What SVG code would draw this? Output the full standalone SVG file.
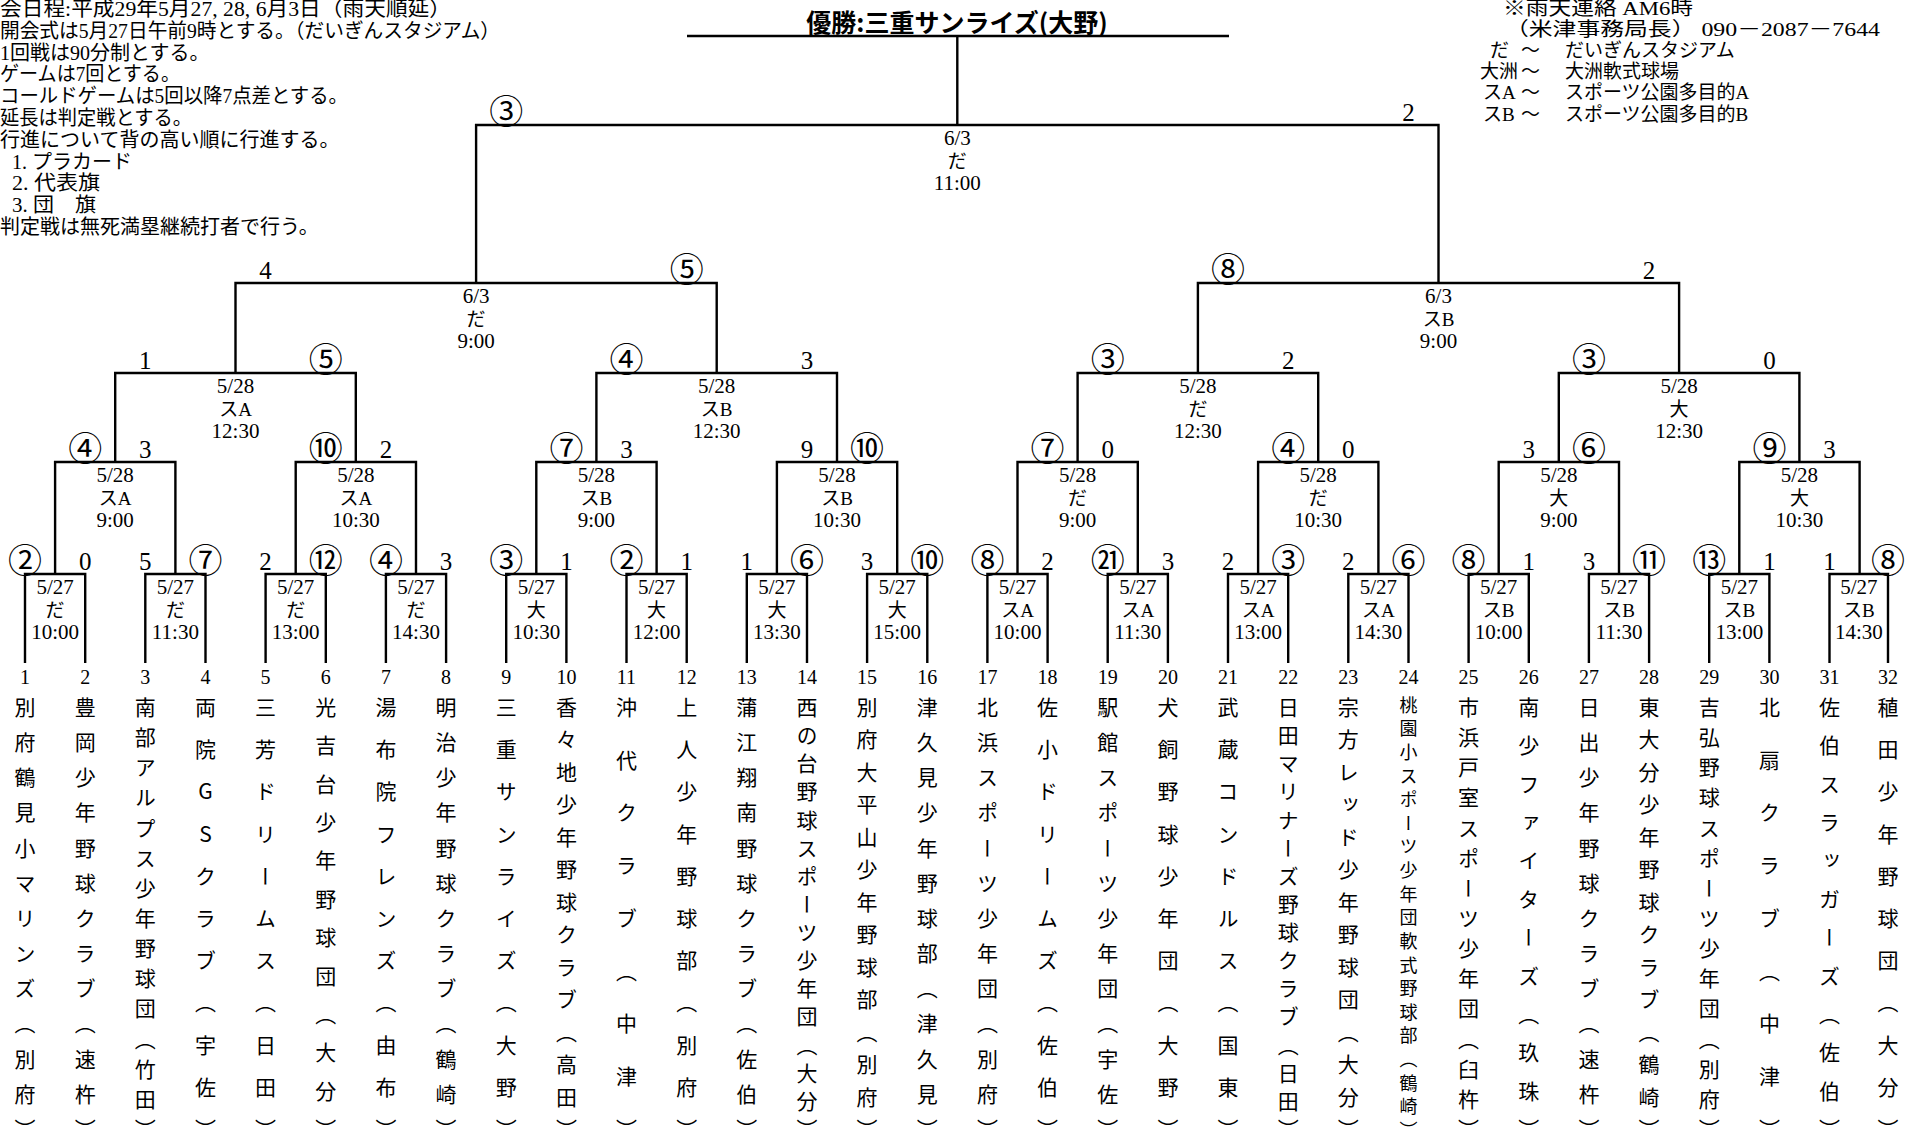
<svg xmlns="http://www.w3.org/2000/svg" width="1906" height="1142" viewBox="0 0 1906 1142">
<style>
.ln{fill:none;stroke:#000;stroke-width:2.4;stroke-linejoin:miter}
text{fill:#000}
.inf{font-family:"Liberation Serif","Noto Sans CJK JP",serif;font-size:21px;text-anchor:middle}
.m{font-size:19px}
.sc{font-family:"Liberation Serif","Noto Sans CJK JP",serif;font-size:25px;text-anchor:middle}
.c{font-family:"Noto Sans CJK JP",sans-serif;font-size:34px}
.no{font-family:"Liberation Serif",serif;font-size:20px;text-anchor:middle}
.tm{font-family:"Noto Sans CJK JP",sans-serif;font-size:21px;writing-mode:vertical-rl;text-orientation:upright}
.sm{font-size:18px}
.note{font-family:"Liberation Serif","Noto Sans CJK JP",serif;font-size:20px}
.rn{font-family:"Liberation Serif","Noto Sans CJK JP",serif;font-size:19px}
.title{font-family:"Noto Sans CJK JP",sans-serif;font-size:25px;font-weight:bold;text-anchor:middle}
</style>

<g id="notes-left">
<text class="note" x="0" y="16" textLength="451" lengthAdjust="spacingAndGlyphs">会日程:平成29年5月27, 28, 6月3日（雨天順延）</text>
<text class="note" x="0" y="37.8" textLength="500" lengthAdjust="spacingAndGlyphs">開会式は5月27日午前9時とする。（だいぎんスタジアム）</text>
<text class="note" x="0" y="59.6">1回戦は90分制とする。</text>
<text class="note" x="0" y="81.4" textLength="180" lengthAdjust="spacingAndGlyphs">ゲームは7回とする。</text>
<text class="note" x="0" y="103.2" textLength="348" lengthAdjust="spacingAndGlyphs">コールドゲームは5回以降7点差とする。</text>
<text class="note" x="0" y="125" textLength="192" lengthAdjust="spacingAndGlyphs">延長は判定戦とする。</text>
<text class="note" x="0" y="146.8">行進について背の高い順に行進する。</text>
<text class="note" x="12" y="168.6">1. プラカード</text>
<text class="note" x="12" y="190.4" textLength="88" lengthAdjust="spacingAndGlyphs">2. 代表旗</text>
<text class="note" x="12" y="212.2" textLength="84" lengthAdjust="spacingAndGlyphs">3. 団　旗</text>
<text class="note" x="0" y="234">判定戦は無死満塁継続打者で行う。</text>
</g>

<g id="notes-right">
<text class="rn" x="1503" y="15" textLength="190" lengthAdjust="spacingAndGlyphs">※雨天連絡 AM6時</text>
<text class="rn" x="1505" y="36.1" textLength="375" lengthAdjust="spacingAndGlyphs">（米津事務局長） 090－2087－7644</text>
<text class="rn" y="57.2"><tspan x="1490">だ</tspan><tspan x="1521">～</tspan><tspan x="1565">だいぎんスタジアム</tspan></text>
<text class="rn" y="78.3"><tspan x="1480">大洲</tspan><tspan x="1521">～</tspan><tspan x="1565">大洲軟式球場</tspan></text>
<text class="rn" y="99.4"><tspan x="1483">スA</tspan><tspan x="1521">～</tspan><tspan x="1565">スポーツ公園多目的A</tspan></text>
<text class="rn" y="120.5"><tspan x="1483">スB</tspan><tspan x="1521">～</tspan><tspan x="1565">スポーツ公園多目的B</tspan></text>
</g>

<g id="champion"><text class="title" x="957" y="32">優勝:三重サンライズ(大野)</text></g>

<g id="connectors" class="ln">
<path d="M687 36H1229M957.3 125V36"/>
<path d="M476.1 283V125H1438.5V283"/>
<path d="M235.5 373V283H716.7V373M1197.9 373V283H1679.1V373"/>
<path d="M115.2 462V373H355.8V462M596.4 462V373H837V462M1077.6 462V373H1318.2V462M1558.8 462V373H1799.4V462"/>
<path d="M55.1 574V462H175.4V574M295.7 574V462H416V574M536.3 574V462H656.6V574M776.9 574V462H897.2V574M1017.5 574V462H1137.8V574M1258.1 574V462H1378.4V574M1498.7 574V462H1619V574M1739.3 574V462H1859.6V574"/>
<path d="M25 663V574H85.2V663M145.3 663V574H205.5V663M265.6 663V574H325.8V663M385.9 663V574H446.1V663M506.2 663V574H566.4V663M626.5 663V574H686.7V663M746.8 663V574H807V663M867.1 663V574H927.3V663M987.4 663V574H1047.6V663M1107.7 663V574H1167.9V663M1228 663V574H1288.2V663M1348.3 663V574H1408.5V663M1468.6 663V574H1528.8V663M1588.9 663V574H1649.1V663M1709.2 663V574H1769.4V663M1829.5 663V574H1888V663"/>
</g>

<g id="final">
<text class="inf" x="957.3" y="145">6/3<tspan class="m" x="957.3" dy="22.5">だ</tspan><tspan x="957.3" dy="22.5">11:00</tspan></text>
<text class="sc c" x="506.2" y="124">③</text><text class="sc" x="1408.5" y="121">2</text>
</g>

<g id="semi-1">
<text class="inf" x="476.1" y="303">6/3<tspan class="m" x="476.1" dy="22.5">だ</tspan><tspan x="476.1" dy="22.5">9:00</tspan></text>
<text class="sc" x="265.6" y="279">4</text><text class="sc c" x="686.7" y="282">⑤</text>
</g>
<g id="semi-2">
<text class="inf" x="1438.5" y="303">6/3<tspan class="m" x="1438.5" dy="22.5">スB</tspan><tspan x="1438.5" dy="22.5">9:00</tspan></text>
<text class="sc c" x="1228" y="282">⑧</text><text class="sc" x="1649.1" y="279">2</text>
</g>

<g id="qf-1">
<text class="inf" x="235.5" y="393">5/28<tspan class="m" x="235.5" dy="22.5">スA</tspan><tspan x="235.5" dy="22.5">12:30</tspan></text>
<text class="sc" x="145.3" y="369">1</text><text class="sc c" x="325.8" y="372">⑤</text>
</g>
<g id="qf-2">
<text class="inf" x="716.7" y="393">5/28<tspan class="m" x="716.7" dy="22.5">スB</tspan><tspan x="716.7" dy="22.5">12:30</tspan></text>
<text class="sc c" x="626.5" y="372">④</text><text class="sc" x="807" y="369">3</text>
</g>
<g id="qf-3">
<text class="inf" x="1197.9" y="393">5/28<tspan class="m" x="1197.9" dy="22.5">だ</tspan><tspan x="1197.9" dy="22.5">12:30</tspan></text>
<text class="sc c" x="1107.7" y="372">③</text><text class="sc" x="1288.2" y="369">2</text>
</g>
<g id="qf-4">
<text class="inf" x="1679.1" y="393">5/28<tspan class="m" x="1679.1" dy="22.5">大</tspan><tspan x="1679.1" dy="22.5">12:30</tspan></text>
<text class="sc c" x="1588.9" y="372">③</text><text class="sc" x="1769.4" y="369">0</text>
</g>

<g id="r2-1"><text class="inf" x="115.2" y="482">5/28<tspan class="m" x="115.2" dy="22.5">スA</tspan><tspan x="115.2" dy="22.5">9:00</tspan></text><text class="sc c" x="85.2" y="461">④</text><text class="sc" x="145.3" y="458">3</text></g>
<g id="r2-2"><text class="inf" x="355.8" y="482">5/28<tspan class="m" x="355.8" dy="22.5">スA</tspan><tspan x="355.8" dy="22.5">10:30</tspan></text><text class="sc c" x="325.8" y="461">⑩</text><text class="sc" x="385.9" y="458">2</text></g>
<g id="r2-3"><text class="inf" x="596.4" y="482">5/28<tspan class="m" x="596.4" dy="22.5">スB</tspan><tspan x="596.4" dy="22.5">9:00</tspan></text><text class="sc c" x="566.4" y="461">⑦</text><text class="sc" x="626.5" y="458">3</text></g>
<g id="r2-4"><text class="inf" x="837" y="482">5/28<tspan class="m" x="837" dy="22.5">スB</tspan><tspan x="837" dy="22.5">10:30</tspan></text><text class="sc" x="807" y="458">9</text><text class="sc c" x="867.1" y="461">⑩</text></g>
<g id="r2-5"><text class="inf" x="1077.6" y="482">5/28<tspan class="m" x="1077.6" dy="22.5">だ</tspan><tspan x="1077.6" dy="22.5">9:00</tspan></text><text class="sc c" x="1047.6" y="461">⑦</text><text class="sc" x="1107.7" y="458">0</text></g>
<g id="r2-6"><text class="inf" x="1318.2" y="482">5/28<tspan class="m" x="1318.2" dy="22.5">だ</tspan><tspan x="1318.2" dy="22.5">10:30</tspan></text><text class="sc c" x="1288.2" y="461">④</text><text class="sc" x="1348.3" y="458">0</text></g>
<g id="r2-7"><text class="inf" x="1558.8" y="482">5/28<tspan class="m" x="1558.8" dy="22.5">大</tspan><tspan x="1558.8" dy="22.5">9:00</tspan></text><text class="sc" x="1528.8" y="458">3</text><text class="sc c" x="1588.9" y="461">⑥</text></g>
<g id="r2-8"><text class="inf" x="1799.4" y="482">5/28<tspan class="m" x="1799.4" dy="22.5">大</tspan><tspan x="1799.4" dy="22.5">10:30</tspan></text><text class="sc c" x="1769.4" y="461">⑨</text><text class="sc" x="1829.5" y="458">3</text></g>

<g id="r1-1"><text class="inf" x="55.1" y="594">5/27<tspan class="m" x="55.1" dy="22.5">だ</tspan><tspan x="55.1" dy="22.5">10:00</tspan></text><text class="sc c" x="25" y="573">②</text><text class="sc" x="85.2" y="570">0</text></g>
<g id="r1-2"><text class="inf" x="175.4" y="594">5/27<tspan class="m" x="175.4" dy="22.5">だ</tspan><tspan x="175.4" dy="22.5">11:30</tspan></text><text class="sc" x="145.3" y="570">5</text><text class="sc c" x="205.5" y="573">⑦</text></g>
<g id="r1-3"><text class="inf" x="295.7" y="594">5/27<tspan class="m" x="295.7" dy="22.5">だ</tspan><tspan x="295.7" dy="22.5">13:00</tspan></text><text class="sc" x="265.6" y="570">2</text><text class="sc c" x="325.8" y="573">⑫</text></g>
<g id="r1-4"><text class="inf" x="416" y="594">5/27<tspan class="m" x="416" dy="22.5">だ</tspan><tspan x="416" dy="22.5">14:30</tspan></text><text class="sc c" x="385.9" y="573">④</text><text class="sc" x="446.1" y="570">3</text></g>
<g id="r1-5"><text class="inf" x="536.3" y="594">5/27<tspan class="m" x="536.3" dy="22.5">大</tspan><tspan x="536.3" dy="22.5">10:30</tspan></text><text class="sc c" x="506.2" y="573">③</text><text class="sc" x="566.4" y="570">1</text></g>
<g id="r1-6"><text class="inf" x="656.6" y="594">5/27<tspan class="m" x="656.6" dy="22.5">大</tspan><tspan x="656.6" dy="22.5">12:00</tspan></text><text class="sc c" x="626.5" y="573">②</text><text class="sc" x="686.7" y="570">1</text></g>
<g id="r1-7"><text class="inf" x="776.9" y="594">5/27<tspan class="m" x="776.9" dy="22.5">大</tspan><tspan x="776.9" dy="22.5">13:30</tspan></text><text class="sc" x="746.8" y="570">1</text><text class="sc c" x="807" y="573">⑥</text></g>
<g id="r1-8"><text class="inf" x="897.2" y="594">5/27<tspan class="m" x="897.2" dy="22.5">大</tspan><tspan x="897.2" dy="22.5">15:00</tspan></text><text class="sc" x="867.1" y="570">3</text><text class="sc c" x="927.3" y="573">⑩</text></g>
<g id="r1-9"><text class="inf" x="1017.5" y="594">5/27<tspan class="m" x="1017.5" dy="22.5">スA</tspan><tspan x="1017.5" dy="22.5">10:00</tspan></text><text class="sc c" x="987.4" y="573">⑧</text><text class="sc" x="1047.6" y="570">2</text></g>
<g id="r1-10"><text class="inf" x="1137.8" y="594">5/27<tspan class="m" x="1137.8" dy="22.5">スA</tspan><tspan x="1137.8" dy="22.5">11:30</tspan></text><text class="sc c" x="1107.7" y="573">㉑</text><text class="sc" x="1167.9" y="570">3</text></g>
<g id="r1-11"><text class="inf" x="1258.1" y="594">5/27<tspan class="m" x="1258.1" dy="22.5">スA</tspan><tspan x="1258.1" dy="22.5">13:00</tspan></text><text class="sc" x="1228" y="570">2</text><text class="sc c" x="1288.2" y="573">③</text></g>
<g id="r1-12"><text class="inf" x="1378.4" y="594">5/27<tspan class="m" x="1378.4" dy="22.5">スA</tspan><tspan x="1378.4" dy="22.5">14:30</tspan></text><text class="sc" x="1348.3" y="570">2</text><text class="sc c" x="1408.5" y="573">⑥</text></g>
<g id="r1-13"><text class="inf" x="1498.7" y="594">5/27<tspan class="m" x="1498.7" dy="22.5">スB</tspan><tspan x="1498.7" dy="22.5">10:00</tspan></text><text class="sc c" x="1468.6" y="573">⑧</text><text class="sc" x="1528.8" y="570">1</text></g>
<g id="r1-14"><text class="inf" x="1619" y="594">5/27<tspan class="m" x="1619" dy="22.5">スB</tspan><tspan x="1619" dy="22.5">11:30</tspan></text><text class="sc" x="1588.9" y="570">3</text><text class="sc c" x="1649.1" y="573">⑪</text></g>
<g id="r1-15"><text class="inf" x="1739.3" y="594">5/27<tspan class="m" x="1739.3" dy="22.5">スB</tspan><tspan x="1739.3" dy="22.5">13:00</tspan></text><text class="sc c" x="1709.2" y="573">⑬</text><text class="sc" x="1769.4" y="570">1</text></g>
<g id="r1-16"><text class="inf" x="1858.8" y="594">5/27<tspan class="m" x="1858.8" dy="22.5">スB</tspan><tspan x="1858.8" dy="22.5">14:30</tspan></text><text class="sc" x="1829.5" y="570">1</text><text class="sc c" x="1888" y="573">⑧</text></g>

<g id="team-1"><text class="no" x="25" y="684">1</text><text class="tm" x="25" y="696.5" textLength="443" lengthAdjust="spacing">別府鶴見小マリンズ（別府）</text></g>
<g id="team-2"><text class="no" x="85.2" y="684">2</text><text class="tm" x="85.2" y="696.5" textLength="443" lengthAdjust="spacing">豊岡少年野球クラブ（速杵）</text></g>
<g id="team-3"><text class="no" x="145.3" y="684">3</text><text class="tm" x="145.3" y="696.5" textLength="443" lengthAdjust="spacing">南部アルプス少年野球団（竹田）</text></g>
<g id="team-4"><text class="no" x="205.5" y="684">4</text><text class="tm" x="205.5" y="696.5" textLength="443" lengthAdjust="spacing">両院GSクラブ（宇佐）</text></g>
<g id="team-5"><text class="no" x="265.6" y="684">5</text><text class="tm" x="265.6" y="696.5" textLength="443" lengthAdjust="spacing">三芳ドリームス（日田）</text></g>
<g id="team-6"><text class="no" x="325.8" y="684">6</text><text class="tm" x="325.8" y="696.5" textLength="443" lengthAdjust="spacing">光吉台少年野球団（大分）</text></g>
<g id="team-7"><text class="no" x="385.9" y="684">7</text><text class="tm" x="385.9" y="696.5" textLength="443" lengthAdjust="spacing">湯布院フレンズ（由布）</text></g>
<g id="team-8"><text class="no" x="446.1" y="684">8</text><text class="tm" x="446.1" y="696.5" textLength="443" lengthAdjust="spacing">明治少年野球クラブ（鶴崎）</text></g>
<g id="team-9"><text class="no" x="506.2" y="684">9</text><text class="tm" x="506.2" y="696.5" textLength="443" lengthAdjust="spacing">三重サンライズ（大野）</text></g>
<g id="team-10"><text class="no" x="566.4" y="684">10</text><text class="tm" x="566.4" y="696.5" textLength="443" lengthAdjust="spacing">香々地少年野球クラブ（高田）</text></g>
<g id="team-11"><text class="no" x="626.5" y="684">11</text><text class="tm" x="626.5" y="696.5" textLength="443" lengthAdjust="spacing">沖代クラブ（中津）</text></g>
<g id="team-12"><text class="no" x="686.7" y="684">12</text><text class="tm" x="686.7" y="696.5" textLength="443" lengthAdjust="spacing">上人少年野球部（別府）</text></g>
<g id="team-13"><text class="no" x="746.8" y="684">13</text><text class="tm" x="746.8" y="696.5" textLength="443" lengthAdjust="spacing">蒲江翔南野球クラブ（佐伯）</text></g>
<g id="team-14"><text class="no" x="807" y="684">14</text><text class="tm" x="807" y="696.5" textLength="443" lengthAdjust="spacing">西の台野球スポーツ少年団（大分）</text></g>
<g id="team-15"><text class="no" x="867.1" y="684">15</text><text class="tm" x="867.1" y="696.5" textLength="443" lengthAdjust="spacing">別府大平山少年野球部（別府）</text></g>
<g id="team-16"><text class="no" x="927.3" y="684">16</text><text class="tm" x="927.3" y="696.5" textLength="443" lengthAdjust="spacing">津久見少年野球部（津久見）</text></g>
<g id="team-17"><text class="no" x="987.4" y="684">17</text><text class="tm" x="987.4" y="696.5" textLength="443" lengthAdjust="spacing">北浜スポーツ少年団（別府）</text></g>
<g id="team-18"><text class="no" x="1047.6" y="684">18</text><text class="tm" x="1047.6" y="696.5" textLength="443" lengthAdjust="spacing">佐小ドリームズ（佐伯）</text></g>
<g id="team-19"><text class="no" x="1107.7" y="684">19</text><text class="tm" x="1107.7" y="696.5" textLength="443" lengthAdjust="spacing">駅館スポーツ少年団（宇佐）</text></g>
<g id="team-20"><text class="no" x="1167.9" y="684">20</text><text class="tm" x="1167.9" y="696.5" textLength="443" lengthAdjust="spacing">犬飼野球少年団（大野）</text></g>
<g id="team-21"><text class="no" x="1228" y="684">21</text><text class="tm" x="1228" y="696.5" textLength="443" lengthAdjust="spacing">武蔵コンドルス（国東）</text></g>
<g id="team-22"><text class="no" x="1288.2" y="684">22</text><text class="tm" x="1288.2" y="696.5" textLength="443" lengthAdjust="spacing">日田マリナーズ野球クラブ（日田）</text></g>
<g id="team-23"><text class="no" x="1348.3" y="684">23</text><text class="tm" x="1348.3" y="696.5" textLength="443" lengthAdjust="spacing">宗方レッド少年野球団（大分）</text></g>
<g id="team-24"><text class="no" x="1408.5" y="684">24</text><text class="tm sm" x="1408.5" y="696" textLength="443" lengthAdjust="spacing">桃園小スポーツ少年団軟式野球部（鶴崎）</text></g>
<g id="team-25"><text class="no" x="1468.6" y="684">25</text><text class="tm" x="1468.6" y="696.5" textLength="443" lengthAdjust="spacing">市浜戸室スポーツ少年団（臼杵）</text></g>
<g id="team-26"><text class="no" x="1528.8" y="684">26</text><text class="tm" x="1528.8" y="696.5" textLength="443" lengthAdjust="spacing">南少ファイターズ（玖珠）</text></g>
<g id="team-27"><text class="no" x="1588.9" y="684">27</text><text class="tm" x="1588.9" y="696.5" textLength="443" lengthAdjust="spacing">日出少年野球クラブ（速杵）</text></g>
<g id="team-28"><text class="no" x="1649.1" y="684">28</text><text class="tm" x="1649.1" y="696.5" textLength="443" lengthAdjust="spacing">東大分少年野球クラブ（鶴崎）</text></g>
<g id="team-29"><text class="no" x="1709.2" y="684">29</text><text class="tm" x="1709.2" y="696.5" textLength="443" lengthAdjust="spacing">吉弘野球スポーツ少年団（別府）</text></g>
<g id="team-30"><text class="no" x="1769.4" y="684">30</text><text class="tm" x="1769.4" y="696.5" textLength="443" lengthAdjust="spacing">北扇クラブ（中津）</text></g>
<g id="team-31"><text class="no" x="1829.5" y="684">31</text><text class="tm" x="1829.5" y="696.5" textLength="443" lengthAdjust="spacing">佐伯スラッガーズ（佐伯）</text></g>
<g id="team-32"><text class="no" x="1888" y="684">32</text><text class="tm" x="1888" y="696.5" textLength="443" lengthAdjust="spacing">稙田少年野球団（大分）</text></g>
</svg>
